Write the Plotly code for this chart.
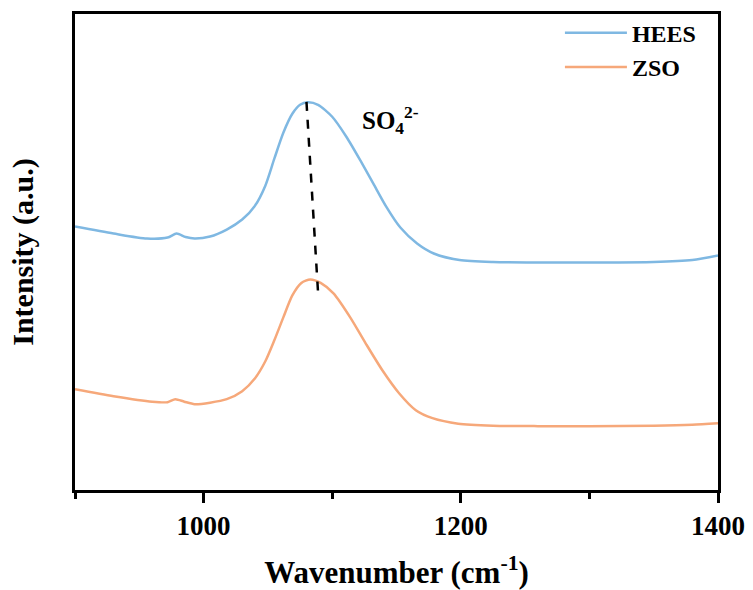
import plotly.graph_objects as go

hees_x = [900, 930, 956, 972, 979, 986, 993, 1005, 1018, 1030, 1040, 1048, 1055, 1062, 1069, 1075, 1081, 1089, 1100, 1111, 1122, 1132, 1142, 1153, 1166, 1179, 1199, 1225, 1260, 1300, 1350, 1380, 1400]
hees = [264, 257, 252, 253, 257, 253.5, 252, 254, 261, 271, 285, 305, 332, 358, 377, 386, 388.5, 386, 374, 354, 330, 307, 284, 263, 247, 237, 230.5, 228.5, 228, 228, 228.5, 230.5, 235]
zso_x = [900, 930, 960, 972, 978, 985, 993, 1005, 1018, 1030, 1040, 1048, 1055, 1062, 1069, 1076, 1083, 1091, 1101, 1114, 1126, 1139, 1152, 1165, 1178, 1198, 1225, 1260, 1300, 1350, 1380, 1400]
zso = [101, 94, 88.5, 88, 91, 88.5, 86, 87.5, 91, 99, 112, 129, 150, 173, 195, 207.5, 211, 207.5, 197, 173, 147, 120, 97, 80, 72, 66.5, 64.5, 64, 64, 64.5, 65.5, 67]
peak_x = [1080, 1089]
peak_y = [389, 198]

font_family = "Liberation Serif"

fig = go.Figure()
fig.add_trace(go.Scatter(x=hees_x, y=hees, mode="lines", name="HEES",
                         line=dict(color="#7fb8e2", width=2.5, shape="spline", smoothing=0.7)))
fig.add_trace(go.Scatter(x=zso_x, y=zso, mode="lines", name="ZSO",
                         line=dict(color="#f6a87a", width=2.5, shape="spline", smoothing=0.7)))
fig.add_trace(go.Scatter(x=peak_x, y=peak_y, mode="lines", showlegend=False,
                         line=dict(color="black", width=2.5, dash="dash")))

fig.add_annotation(x=1145, y=371, xref="x", yref="y",
                   text="<b>SO<sub>4</sub><sup>2-</sup></b>", showarrow=False,
                   font=dict(family=font_family, size=25, color="black"))

fig.update_layout(
    width=753, height=590,
    margin=dict(l=75, r=35, t=13, b=100),
    paper_bgcolor="white", plot_bgcolor="white",
    font=dict(family=font_family, color="black"),
    legend=dict(x=0.975, y=1.005, xanchor="right", yanchor="top",
                font=dict(family=font_family, size=24, color="black", weight="bold"),
                bgcolor="rgba(0,0,0,0)", itemwidth=62, tracegroupgap=0),
    xaxis=dict(range=[900, 1400], tickvals=[1000, 1200, 1400], automargin=False,
               ticks="outside", ticklen=10, tickwidth=2.5, tickcolor="black",
               minor=dict(tick0=900, dtick=100, ticks="outside", ticklen=6, tickwidth=2.5, tickcolor="black"),
               showline=True, linewidth=3, linecolor="black", mirror=True,
               showgrid=False, zeroline=False,
               tickfont=dict(family=font_family, size=27, color="black", weight="bold"),
               title=dict(text="Wavenumber (cm<sup>-1</sup>)", standoff=26,
                          font=dict(family=font_family, size=31, color="black", weight="bold"))),
    yaxis=dict(range=[0, 477], showticklabels=False, ticks="", automargin=False,
               showline=True, linewidth=3, linecolor="black", mirror=True,
               showgrid=False, zeroline=False,
               title=dict(text="Intensity (a.u.)", standoff=30,
                          font=dict(family=font_family, size=30, color="black", weight="bold"))),
)

fig.write_html("out.html")
